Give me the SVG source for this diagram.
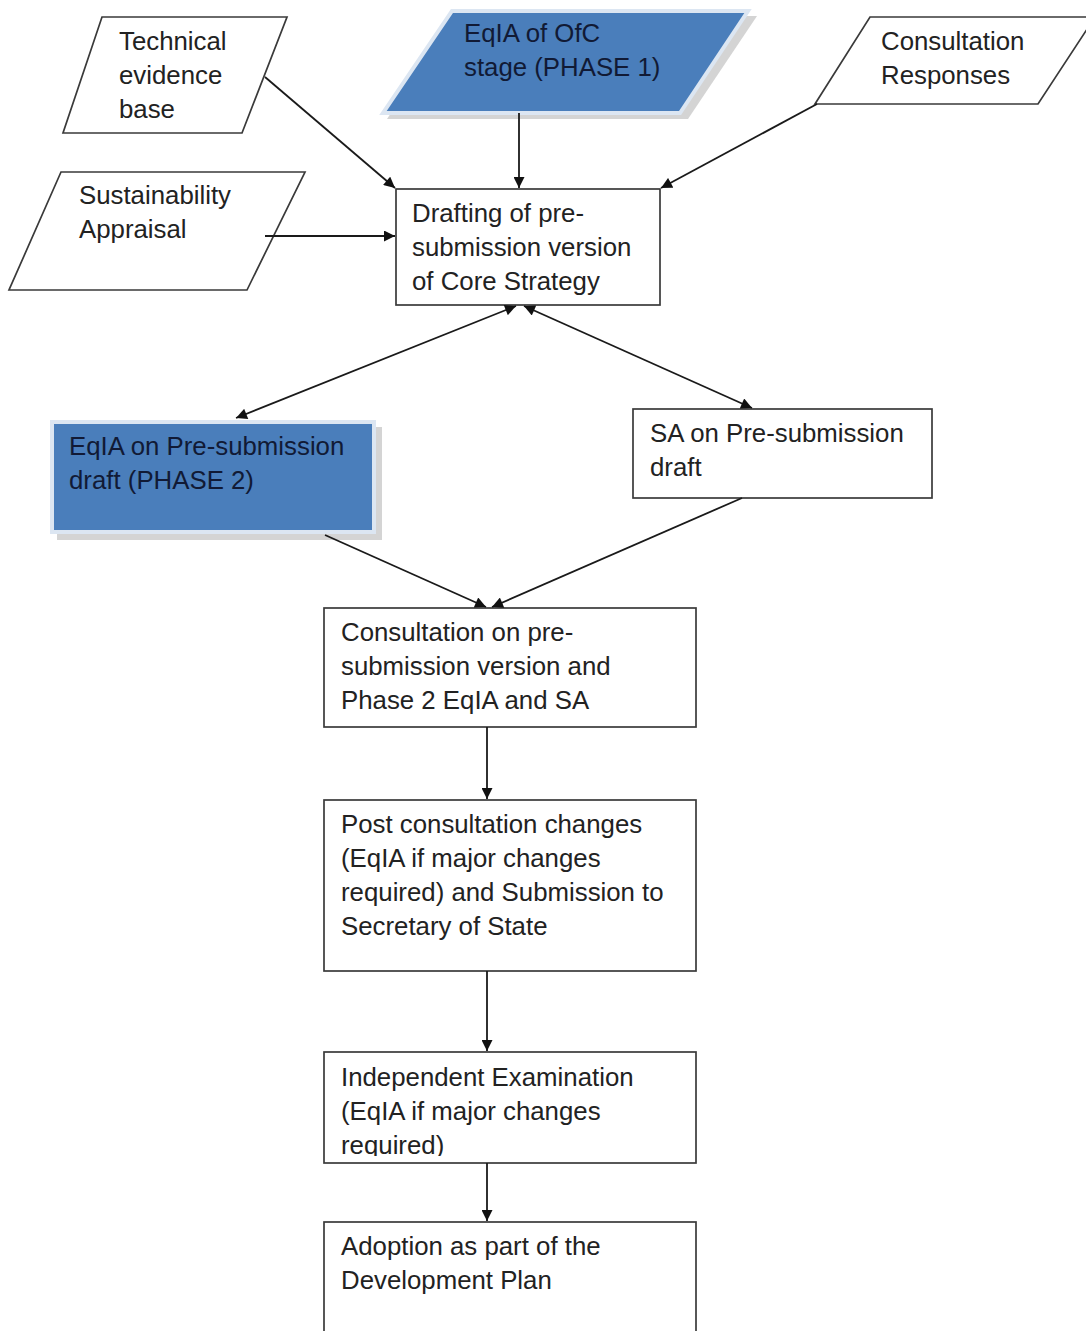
<svg xmlns="http://www.w3.org/2000/svg" width="1086" height="1331" viewBox="0 0 1086 1331">
<style>
.box{fill:#fff;stroke:#3a3a3a;stroke-width:1.7}
.blue{fill:#4a7ebb;stroke:#dce6f2;stroke-width:4}
.shadow{fill:#b8b8b8;opacity:0.6}
.t{font-family:"Liberation Sans",Arial,sans-serif;font-size:25.8px;fill:#222}
.tb{font-family:"Liberation Sans",Arial,sans-serif;font-size:25.8px;fill:#111a35}
.c{stroke:#1a1a1a;stroke-width:1.8;fill:none}
</style>
<defs>
<marker id="ah" viewBox="0 0 10 10" refX="10" refY="5" markerWidth="12" markerHeight="11" markerUnits="userSpaceOnUse" orient="auto-start-reverse">
<path d="M0,0 L10,5 L0,10 z" fill="#111"/>
</marker>
<clipPath id="clipIE"><rect x="324" y="1052" width="372" height="104"/></clipPath>
</defs>
<rect width="1086" height="1331" fill="#fff"/>

<g id="technical">
<polygon class="box" points="102,17 287,17 242,133 63,133"/>
<text class="t" x="119" y="50">Technical</text>
<text class="t" x="119" y="84">evidence</text>
<text class="t" x="119" y="118">base</text>
</g>

<g id="eqia-ofc">
<polygon class="shadow" points="456,16 757,16 688,119 387,119"/>
<polygon class="blue" points="452,11 748,11 680,113 383,113"/>
<text class="tb" x="464" y="42">EqIA of OfC</text>
<text class="tb" x="464" y="76">stage (PHASE 1)</text>
</g>

<g id="consultation-responses">
<polygon class="box" points="870,17 1095,17 1038,104 815,104"/>
<text class="t" x="881" y="50">Consultation</text>
<text class="t" x="881" y="84">Responses</text>
</g>

<g id="sustainability">
<polygon class="box" points="61,172 305,172 247,290 9,290"/>
<text class="t" x="79" y="204">Sustainability</text>
<text class="t" x="79" y="238">Appraisal</text>
</g>

<g id="drafting">
<rect class="box" x="396" y="189" width="264" height="116"/>
<text class="t" x="412" y="222">Drafting of pre-</text>
<text class="t" x="412" y="256">submission version</text>
<text class="t" x="412" y="290">of Core Strategy</text>
</g>

<g id="eqia-pre">
<rect class="shadow" x="57" y="427" width="325" height="113"/>
<rect class="blue" x="52" y="422" width="322" height="110"/>
<text class="tb" x="69" y="455">EqIA on Pre-submission</text>
<text class="tb" x="69" y="489">draft (PHASE 2)</text>
</g>

<g id="sa-pre">
<rect class="box" x="633" y="409" width="299" height="89"/>
<text class="t" x="650" y="442">SA on Pre-submission</text>
<text class="t" x="650" y="476">draft</text>
</g>

<g id="consultation">
<rect class="box" x="324" y="608" width="372" height="119"/>
<text class="t" x="341" y="641">Consultation on pre-</text>
<text class="t" x="341" y="675">submission version and</text>
<text class="t" x="341" y="709">Phase 2 EqIA and SA</text>
</g>

<g id="post-consultation">
<rect class="box" x="324" y="800" width="372" height="171"/>
<text class="t" x="341" y="833">Post consultation changes</text>
<text class="t" x="341" y="867">(EqIA if major changes</text>
<text class="t" x="341" y="901">required) and Submission to</text>
<text class="t" x="341" y="935">Secretary of State</text>
</g>

<g id="examination">
<rect class="box" x="324" y="1052" width="372" height="111"/>
<g clip-path="url(#clipIE)">
<text class="t" x="341" y="1086">Independent Examination</text>
<text class="t" x="341" y="1120">(EqIA if major changes</text>
<text class="t" x="341" y="1154">required)</text>
</g>
</g>

<g id="adoption">
<rect class="box" x="324" y="1222" width="372" height="130"/>
<text class="t" x="341" y="1255">Adoption as part of the</text>
<text class="t" x="341" y="1289">Development Plan</text>
</g>

<g id="connectors">
<line class="c" x1="265" y1="77" x2="395" y2="188" marker-end="url(#ah)"/>
<line class="c" x1="519" y1="113" x2="519" y2="188" marker-end="url(#ah)"/>
<line class="c" x1="817" y1="104" x2="661" y2="188" marker-end="url(#ah)"/>
<line class="c" x1="265" y1="236" x2="395" y2="236" marker-end="url(#ah)"/>
<line class="c" x1="516" y1="306" x2="236" y2="418" marker-start="url(#ah)" marker-end="url(#ah)"/>
<line class="c" x1="524" y1="306" x2="752" y2="408" marker-start="url(#ah)" marker-end="url(#ah)"/>
<line class="c" x1="325" y1="535" x2="486" y2="607" marker-end="url(#ah)"/>
<line class="c" x1="742" y1="498" x2="492" y2="607" marker-end="url(#ah)"/>
<line class="c" x1="487" y1="727" x2="487" y2="799" marker-end="url(#ah)"/>
<line class="c" x1="487" y1="971" x2="487" y2="1051" marker-end="url(#ah)"/>
<line class="c" x1="487" y1="1163" x2="487" y2="1221" marker-end="url(#ah)"/>
</g>
</svg>
